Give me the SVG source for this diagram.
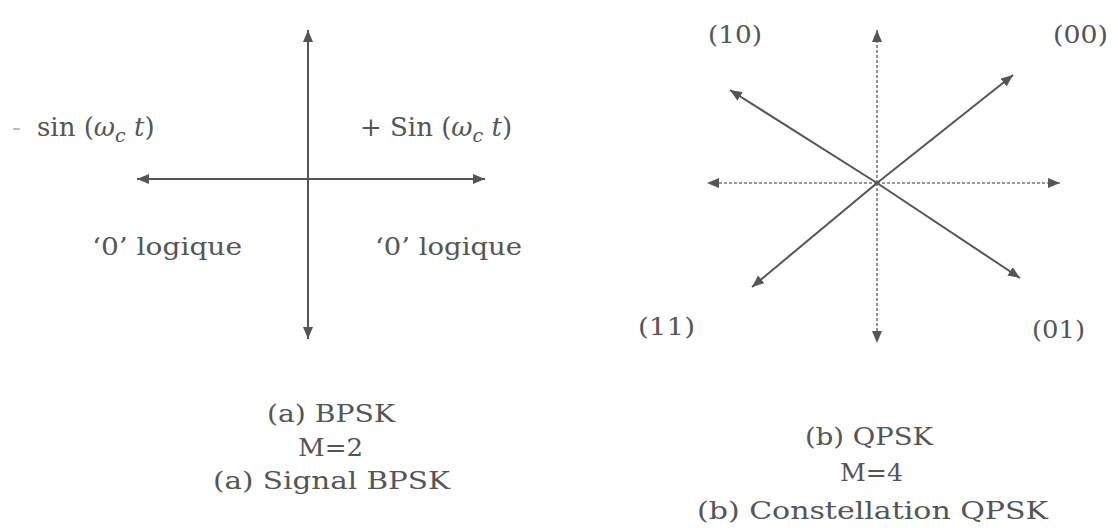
<svg xmlns="http://www.w3.org/2000/svg" width="1118" height="528" viewBox="0 0 1118 528">
<defs>
<marker id="ah" markerWidth="14" markerHeight="12" refX="12" refY="5" orient="auto" markerUnits="userSpaceOnUse">
<path d="M0,0 L12,5 L0,10 Z" fill="#555"/>
</marker>
<style>
text{font-family:"DejaVu Serif","Liberation Serif",serif;font-size:24px;fill:#555}
.f{font-size:26px}
.c{text-anchor:middle}
.s{stroke:#555;stroke-width:2;fill:none;marker-end:url(#ah)}
.d{stroke:#777;stroke-width:1.6;stroke-dasharray:3 2;fill:none;marker-end:url(#ah)}
</style>
</defs>
<rect width="1118" height="528" fill="#fff"/>
<g id="connectors">
<line class="s" x1="308" y1="179" x2="308" y2="30"/>
<line class="s" x1="308" y1="179" x2="308" y2="339"/>
<line class="s" x1="308" y1="179" x2="137" y2="179"/>
<line class="s" x1="308" y1="179" x2="485" y2="179"/>
<line class="d" x1="877" y1="183" x2="877" y2="30"/>
<line class="d" x1="877" y1="183" x2="877" y2="343"/>
<line class="d" x1="877" y1="183" x2="707" y2="183"/>
<line class="d" x1="877" y1="183" x2="1060" y2="183"/>
<line class="s" x1="877" y1="183" x2="1013" y2="75"/>
<line class="s" x1="877" y1="183" x2="730" y2="90"/>
<line class="s" x1="877" y1="183" x2="752" y2="287"/>
<line class="s" x1="877" y1="183" x2="1020" y2="278"/>
</g>
<g id="bpsk-labels">
<text class="f" x="12" y="136"><tspan fill="#bbb">-</tspan><tspan x="37">sin (</tspan><tspan font-style="italic">ω</tspan><tspan font-style="italic" font-size="19" dy="6">c</tspan><tspan dy="-6" font-style="italic"> t</tspan>)</text>
<text class="f" x="360" y="136">+ Sin (<tspan font-style="italic">ω</tspan><tspan font-style="italic" font-size="19" dy="6">c</tspan><tspan dy="-6" font-style="italic"> t</tspan>)</text>
<text x="92" y="255" textLength="150" lengthAdjust="spacingAndGlyphs">‘0’ logique</text>
<text x="375" y="255" textLength="147" lengthAdjust="spacingAndGlyphs">‘0’ logique</text>
</g>
<g id="bpsk-caption">
<text x="267" y="422" textLength="128" lengthAdjust="spacingAndGlyphs">(a) BPSK</text>
<text x="298" y="456" textLength="65" lengthAdjust="spacingAndGlyphs">M=2</text>
<text x="213" y="489" textLength="237" lengthAdjust="spacingAndGlyphs">(a) Signal BPSK</text>
</g>
<g id="qpsk-labels">
<text x="708" y="43" textLength="54" lengthAdjust="spacingAndGlyphs">(10)</text>
<text x="1053" y="43" textLength="55" lengthAdjust="spacingAndGlyphs">(00)</text>
<text x="638" y="335" textLength="57" lengthAdjust="spacingAndGlyphs">(11)</text>
<text x="1032" y="338" textLength="53" lengthAdjust="spacingAndGlyphs">(01)</text>
</g>
<g id="qpsk-caption">
<text x="805" y="445" textLength="128" lengthAdjust="spacingAndGlyphs">(b) QPSK</text>
<text x="840" y="481" textLength="63" lengthAdjust="spacingAndGlyphs">M=4</text>
<text x="697" y="519" textLength="351" lengthAdjust="spacingAndGlyphs">(b) Constellation QPSK</text>
</g>
</svg>
